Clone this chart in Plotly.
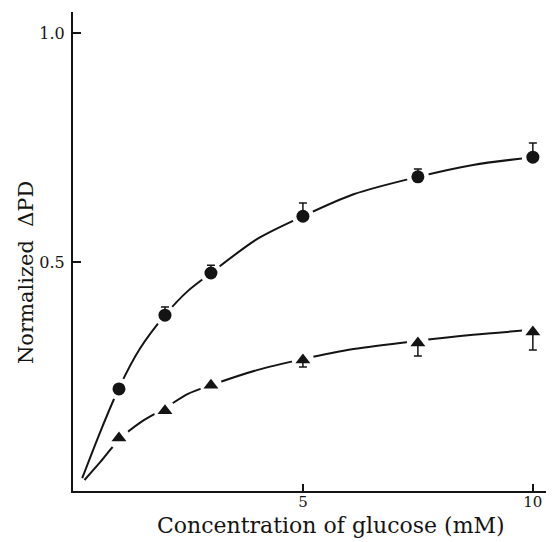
import plotly.graph_objects as go

# Measured points
conc = [1, 2, 3, 5, 7.5, 10]
circle_y = [0.223, 0.384, 0.476, 0.600, 0.686, 0.729]
circle_err_up = [0.0, 0.018, 0.017, 0.029, 0.017, 0.031]
triangle_y = [0.116, 0.175, 0.231, 0.286, 0.323, 0.347]
triangle_err_down = [0.0, 0.0, 0.0, 0.015, 0.028, 0.039]

# Fitted curves
curve_c_x = [0.2, 0.6, 1.0, 1.45, 2.0, 2.5, 3.0, 4.0, 5.0, 6.1, 7.5, 8.7, 10.0]
curve_c_y = [0.028, 0.131, 0.225, 0.310, 0.384, 0.437, 0.476, 0.550, 0.600, 0.648, 0.686, 0.712, 0.729]
curve_t_x = [0.25, 0.6, 1.0, 1.5, 2.0, 2.5, 3.0, 4.0, 5.0, 6.1, 7.5, 8.7, 10.0]
curve_t_y = [0.024, 0.064, 0.112, 0.152, 0.181, 0.212, 0.231, 0.264, 0.288, 0.310, 0.328, 0.341, 0.352]

x_ticks = [5, 10]
x_tick_labels = ["5", "10"]
y_ticks = [0.5, 1.0]
y_tick_labels = ["0.5", "1.0"]
x_title = "Concentration of glucose (mM)"
y_title = "Normalized  ΔPD"

INK = "#141414"
FONT = "DejaVu Serif"

fig = go.Figure()
for cx, cy in [(curve_c_x, curve_c_y), (curve_t_x, curve_t_y)]:
    fig.add_trace(go.Scatter(x=cx, y=cy, mode="lines",
                             line=dict(color=INK, width=2, shape="spline", smoothing=0.8),
                             hoverinfo="skip"))
# white halos that break the curves around the markers
fig.add_trace(go.Scatter(x=conc, y=circle_y, mode="markers",
                         marker=dict(symbol="circle", size=22, color="white"), hoverinfo="skip"))
fig.add_trace(go.Scatter(x=conc, y=triangle_y, mode="markers",
                         marker=dict(symbol="circle", size=22, color="white"), hoverinfo="skip"))
fig.add_trace(go.Scatter(x=conc, y=circle_y, mode="markers",
                         marker=dict(symbol="circle", size=13, color=INK)))
fig.add_trace(go.Scatter(x=conc, y=triangle_y, mode="markers",
                         marker=dict(symbol="triangle-up", size=13, color=INK)))
fig.add_trace(go.Scatter(x=conc, y=circle_y, mode="markers", marker=dict(size=1, opacity=0),
                         error_y=dict(type="data", symmetric=False, array=circle_err_up,
                                      arrayminus=[0]*len(conc), color=INK, thickness=1.5, width=4),
                         hoverinfo="skip"))
fig.add_trace(go.Scatter(x=conc, y=triangle_y, mode="markers", marker=dict(size=1, opacity=0),
                         error_y=dict(type="data", symmetric=False, array=[0]*len(conc),
                                      arrayminus=triangle_err_down, color=INK, thickness=1.5, width=4),
                         hoverinfo="skip"))

# page has an 8px body margin: figure is 546x534 so it ends at the window edge
fig.update_layout(
    width=546, height=534,
    margin=dict(l=65, r=0, t=4, b=51),
    paper_bgcolor="white", plot_bgcolor="white",
    showlegend=False,
    font=dict(family=FONT, color=INK, size=16),
    xaxis=dict(range=[0, 10.46], tickvals=x_ticks, ticktext=x_tick_labels, automargin=False,
               ticks="inside", ticklen=7, tickwidth=1.5, tickcolor=INK,
               showline=True, linecolor=INK, linewidth=2, showgrid=False, zeroline=False,
               tickfont=dict(family=FONT, size=15, color=INK), ticklabelstandoff=-4),
    yaxis=dict(range=[0, 1.046], tickvals=y_ticks, ticktext=y_tick_labels, automargin=False,
               ticks="inside", ticklen=8, tickwidth=1.5, tickcolor=INK,
               showline=True, linecolor=INK, linewidth=2, showgrid=False, zeroline=False,
               tickfont=dict(family=FONT, size=16, color=INK), ticklabelstandoff=3),
    annotations=[
        dict(text=x_title, xref="paper", yref="paper", x=(331 - 73) / 481, y=0,
             xanchor="center", yanchor="middle", yshift=-34, showarrow=False,
             font=dict(family=FONT, size=22, color=INK)),
        dict(text=y_title, xref="paper", yref="paper", x=0, y=(491 - 273) / 479,
             xanchor="center", yanchor="middle", xshift=-47, textangle=-90, showarrow=False,
             font=dict(family=FONT, size=21, color=INK)),
    ],
)

fig.write_html("out.html")
